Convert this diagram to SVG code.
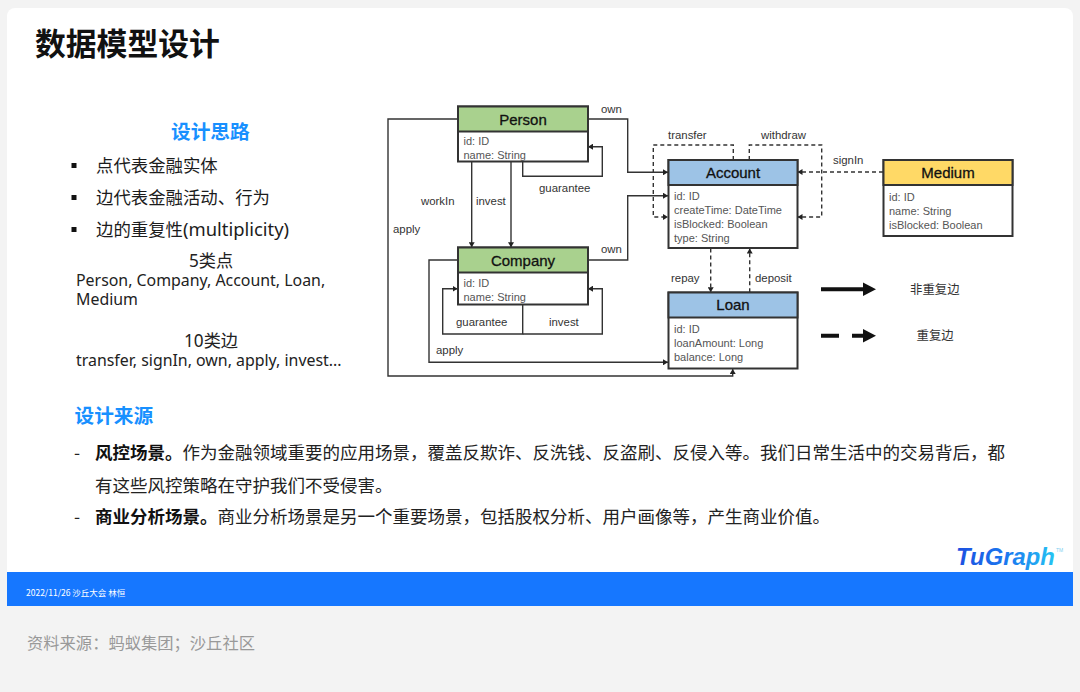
<svg xmlns="http://www.w3.org/2000/svg" width="1080" height="692" viewBox="0 0 1080 692">
<style>
.cjk{font-family:"Noto Sans CJK SC","Noto Sans",sans-serif}
.mix{font-family:"Noto Sans","Noto Sans CJK SC",sans-serif;font-size:15.9px;fill:#222}
.cnt{font-family:"Noto Sans","Noto Sans CJK SC",sans-serif;font-size:17.2px;fill:#222;text-anchor:middle}
.list{font-family:"Noto Sans","Noto Sans CJK SC",sans-serif;font-size:17.4px;fill:#1c1c1c}
.head{font-family:"Noto Sans CJK SC",sans-serif;font-size:19.7px;font-weight:700;fill:#1890ff}
.body{font-family:"Noto Sans CJK SC",sans-serif;font-size:17.5px;fill:#222}
.body tspan{font-weight:700;fill:#111}
.box{fill:#fff;stroke:#333;stroke-width:2}
.hd{stroke:#333;stroke-width:2}
.nm{font-family:"Liberation Sans",sans-serif;font-size:15px;font-weight:400;fill:#111;text-anchor:middle;stroke:#111;stroke-width:.3}
.at{font-family:"Liberation Sans",sans-serif;font-size:11px;fill:#555}
.lb{font-family:"Liberation Sans",sans-serif;font-size:11.4px;fill:#333}
.c{fill:none;stroke:#333;stroke-width:1.4}
.a{marker-end:url(#ah)}
.d{stroke-dasharray:4 3}
</style>
<defs>
<marker id="ah" markerUnits="userSpaceOnUse" markerWidth="6" markerHeight="6" refX="5" refY="3" orient="auto"><path d="M0 0L5 3L0 6Z" fill="#222"/></marker>
<linearGradient id="lg" x1="0" x2="1" y1="0" y2="0"><stop offset="0" stop-color="#1d4fe0"/><stop offset=".55" stop-color="#1a7cf0"/><stop offset="1" stop-color="#25c4f2"/></linearGradient>
</defs>
<rect width="1080" height="692" fill="#f3f3f3"/>
<path d="M7 572V16a8 8 0 0 1 8-8H1065a8 8 0 0 1 8 8V572Z" fill="#fff"/>
<rect x="7" y="572" width="1066" height="34" fill="#1677ff"/>
<text x="35" y="55" class="cjk" font-size="30.8" font-weight="700" fill="#111">数据模型设计</text>

<text x="171" y="139" class="head">设计思路</text>
<rect x="71.500" y="163" width="5" height="5" fill="#111"/>
<rect x="71.500" y="195" width="5" height="5" fill="#111"/>
<rect x="71.500" y="227" width="5" height="5" fill="#111"/>
<text x="96" y="172" class="list">点代表金融实体</text>
<text x="96" y="204" class="list">边代表金融活动、行为</text>
<text x="96" y="236" class="list">边的重复性<tspan font-size="18.400">(multiplicity)</tspan></text>
<text x="211" y="267" class="cnt">5类点</text>
<text x="76" y="286" class="mix">Person, Company, Account, Loan,</text>
<text x="76" y="305" class="mix">Medium</text>
<text x="211" y="347" class="cnt">10类边</text>
<text x="76" y="366" class="mix">transfer, signIn, own, apply, invest...</text>

<g id="connectors">
<path class="c a" d="M457.500 119H388V376H732.700V369"/>
<path class="c a" d="M457.500 260H429V362.300H668"/>
<path class="c a" d="M587.500 119H627.700V172.300H668"/>
<path class="c a" d="M587.500 260H627.700V195.700H668"/>
<path class="c a" d="M471.700 162V247.300"/>
<path class="c a" d="M511 162V247.300"/>
<path class="c a" d="M522.700 162V176.300H602.300V146.700H588"/>
<path class="c a" d="M522.700 304.300V334H442.700V288.700H457.500"/>
<path class="c a" d="M522.700 334H602.300V288.700H588"/>
<path class="c d a" d="M733.300 160V145H653.300V217H668"/>
<path class="c d a" d="M749.300 160V145H821.700V217H797.500"/>
<path class="c d a" d="M883 172H797.500"/>
<path class="c d a" d="M710.700 248.500V292.300"/>
<path class="c d a" d="M749.700 292.300V248.500"/>
<path d="M821 289.300H864" fill="none" stroke="#111" stroke-width="4"/>
<path d="M863 282.500L876 289.300L863 296Z" fill="#111"/>
<path d="M821 335.700H839M852 335.700H864" fill="none" stroke="#111" stroke-width="4"/>
<path d="M863 329L876 335.700L863 342.500Z" fill="#111"/>
</g>
<g id="edge-labels">
<text x="601" y="113" class="lb">own</text>
<text x="539" y="192" class="lb">guarantee</text>
<text x="421" y="205" class="lb">workIn</text>
<text x="476" y="205" class="lb">invest</text>
<text x="393" y="233" class="lb">apply</text>
<text x="601" y="253" class="lb">own</text>
<text x="456" y="326" class="lb">guarantee</text>
<text x="549" y="326" class="lb">invest</text>
<text x="436" y="354" class="lb">apply</text>
<text x="668" y="139" class="lb">transfer</text>
<text x="761" y="139" class="lb">withdraw</text>
<text x="833" y="164" class="lb">signIn</text>
<text x="671" y="282" class="lb">repay</text>
<text x="755" y="282" class="lb">deposit</text>
<text x="910" y="294" class="cjk" font-size="12.400" fill="#333">非重复边</text>
<text x="916.500" y="340" class="cjk" font-size="12.400" fill="#333">重复边</text>
</g>

<g id="person">
<rect class="box" x="458" y="106.500" width="130" height="55"/>
<rect class="hd" x="458" y="106.500" width="130" height="25" fill="#a9d18e"/>
<text class="nm" x="523" y="124.500">Person</text>
<text class="at" x="463.500" y="145">id: ID</text>
<text class="at" x="463.500" y="159">name: String</text>
</g>
<g id="company">
<rect class="box" x="458" y="247.500" width="130" height="57"/>
<rect class="hd" x="458" y="247.500" width="130" height="25" fill="#a9d18e"/>
<text class="nm" x="523" y="265.500">Company</text>
<text class="at" x="463.500" y="287">id: ID</text>
<text class="at" x="463.500" y="301">name: String</text>
</g>
<g id="account">
<rect class="box" x="668.500" y="160" width="129" height="88"/>
<rect class="hd" x="668.500" y="160" width="129" height="25" fill="#9dc3e6"/>
<text class="nm" x="733" y="177.500">Account</text>
<text class="at" x="674" y="200">id: ID</text>
<text class="at" x="674" y="214">createTime: DateTime</text>
<text class="at" x="674" y="228">isBlocked: Boolean</text>
<text class="at" x="674" y="242">type: String</text>
</g>
<g id="loan">
<rect class="box" x="668.500" y="292.500" width="129" height="76"/>
<rect class="hd" x="668.500" y="292.500" width="129" height="25" fill="#9dc3e6"/>
<text class="nm" x="733" y="310">Loan</text>
<text class="at" x="674" y="333">id: ID</text>
<text class="at" x="674" y="347">loanAmount: Long</text>
<text class="at" x="674" y="361">balance: Long</text>
</g>
<g id="medium">
<rect class="box" x="883.500" y="160" width="129" height="76"/>
<rect class="hd" x="883.500" y="160" width="129" height="25" fill="#ffd966"/>
<text class="nm" x="948" y="177.500">Medium</text>
<text class="at" x="889" y="201">id: ID</text>
<text class="at" x="889" y="215">name: String</text>
<text class="at" x="889" y="229">isBlocked: Boolean</text>
</g>

<text x="74.500" y="423" class="head">设计来源</text>
<text x="74" y="459" class="body">-</text>
<text x="95" y="459" class="body"><tspan>风控场景。</tspan>作为金融领域重要的应用场景，覆盖反欺诈、反洗钱、反盗刷、反侵入等。我们日常生活中的交易背后，都</text>
<text x="95" y="492" class="body">有这些风控策略在守护我们不受侵害。</text>
<text x="74" y="523" class="body">-</text>
<text x="95" y="523" class="body"><tspan>商业分析场景。</tspan>商业分析场景是另一个重要场景，包括股权分析、用户画像等，产生商业价值。</text>

<text x="956" y="565" font-family="'Liberation Sans',sans-serif" font-size="23.800" font-weight="700" font-style="italic" fill="url(#lg)">TuGraph</text>
<text x="1056" y="552" font-family="'Liberation Sans',sans-serif" font-size="5" fill="#7fd0ef">TM</text>
<text x="26" y="595.500" class="cjk" font-size="8.500" fill="#fff">2022/11/26 沙丘大会 林恒</text>
<text x="27" y="649" class="cjk" font-size="16.300" fill="#999">资料来源：蚂蚁集团；沙丘社区</text>
</svg>
